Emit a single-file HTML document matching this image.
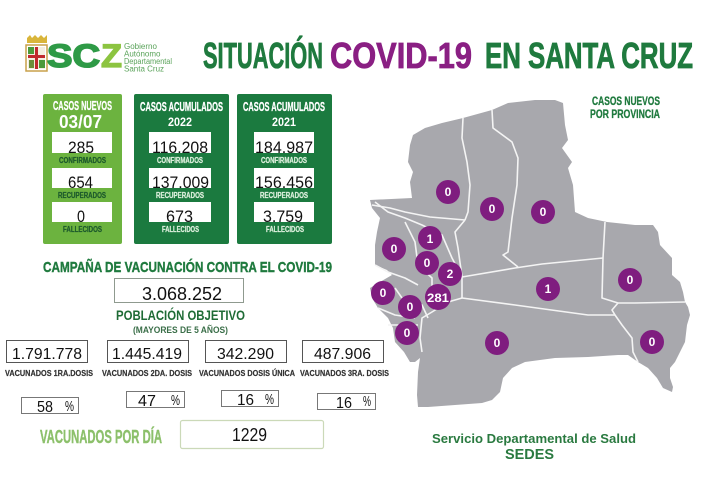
<!DOCTYPE html>
<html><head><meta charset="utf-8">
<style>
html,body{margin:0;padding:0;background:#fff;}
svg{display:block;}
text{font-family:"Liberation Sans",Arial,sans-serif;}
</style></head>
<body>
<svg width="714" height="502" viewBox="0 0 714 502" xmlns="http://www.w3.org/2000/svg">
<rect width="714" height="502" fill="#fff"/>

<!-- Logo shield -->
<g>
  <path d="M27,38 l3,-3 l2,3 l3,-3 l3,3 l3,-3 l3,3 l3,-3 v8 h-20 z" fill="#d9b53a"/>
  <rect x="26" y="45" width="21" height="26" fill="#fff" stroke="#c9a14a" stroke-width="1.5"/>
  <rect x="28" y="47" width="17" height="22" fill="#f3efe0"/>
  <rect x="35" y="47" width="3" height="22" fill="#c0282d"/>
  <rect x="28" y="55" width="17" height="3" fill="#c0282d"/>
  <rect x="28" y="47" width="6" height="7" fill="#4c9a3b"/>
  <rect x="39" y="60" width="6" height="8" fill="#4c9a3b"/>
  <rect x="29" y="60" width="5" height="8" fill="#6b8e3a"/>
</g>
<text x="47" y="67" font-size="32" font-weight="bold" fill="#2e9a46" stroke="#2e9a46" stroke-width="1.6" textLength="53" lengthAdjust="spacingAndGlyphs">SC</text>
<text x="101" y="67" font-size="32" font-weight="bold" fill="#8cc440" stroke="#8cc440" stroke-width="1.2" textLength="21" lengthAdjust="spacingAndGlyphs">Z</text>
<g font-size="8" fill="#5aa35a">
  <text x="124" y="49">Gobierno</text>
  <text x="124" y="56.5">Autónomo</text>
  <text x="124" y="64" textLength="48" lengthAdjust="spacingAndGlyphs">Departamental</text>
  <text x="124" y="71.5">Santa Cruz</text>
</g>

<!-- Title -->
<g font-size="36" font-weight="bold" stroke-width="0.8">
  <text x="203" y="68" fill="#1f7a3e" stroke="#1f7a3e" textLength="120" lengthAdjust="spacingAndGlyphs">SITUACIÓN</text>
  <text x="330" y="68" fill="#8a1f83" stroke="#8a1f83" textLength="142" lengthAdjust="spacingAndGlyphs">COVID-19</text>
  <text x="485" y="68" fill="#1f7a3e" stroke="#1f7a3e" textLength="208" lengthAdjust="spacingAndGlyphs">EN SANTA CRUZ</text>
</g>

<!-- Stat boxes -->
<rect x="43" y="94" width="79" height="150" rx="2" fill="#6cb33f"/>
<rect x="134" y="94" width="95" height="150" rx="2" fill="#1b7a3f"/>
<rect x="237" y="94" width="95" height="150" rx="2" fill="#1b7a3f"/>

<g font-weight="bold" fill="#fff">
  <text x="53" y="110" font-size="13" stroke="#fff" stroke-width="0.3" textLength="59" lengthAdjust="spacingAndGlyphs">CASOS NUEVOS</text>
  <text x="59" y="128" font-size="18" textLength="43" lengthAdjust="spacingAndGlyphs">03/07</text>
  <text x="140" y="111" font-size="13" stroke="#fff" stroke-width="0.3" textLength="83" lengthAdjust="spacingAndGlyphs">CASOS ACUMULADOS</text>
  <text x="243" y="111" font-size="13" stroke="#fff" stroke-width="0.3" textLength="82" lengthAdjust="spacingAndGlyphs">CASOS ACUMULADOS</text>
  <text x="168" y="126" font-size="12" textLength="24" lengthAdjust="spacingAndGlyphs">2022</text>
  <text x="272" y="126" font-size="12" textLength="24" lengthAdjust="spacingAndGlyphs">2021</text>
</g>

<g fill="#fff">
  <rect x="52" y="132" width="60" height="21"/>
  <rect x="52" y="168" width="60" height="20"/>
  <rect x="52" y="202" width="60" height="20"/>
  <rect x="149" y="132" width="62" height="21"/>
  <rect x="149" y="168" width="62" height="20"/>
  <rect x="149" y="202" width="62" height="20"/>
  <rect x="254" y="132" width="60" height="21"/>
  <rect x="254" y="168" width="60" height="20"/>
  <rect x="254" y="202" width="60" height="20"/>
</g>

<g font-size="17" fill="#111">
  <text x="68" y="153" textLength="26" lengthAdjust="spacingAndGlyphs">285</text>
  <text x="68" y="188" textLength="25" lengthAdjust="spacingAndGlyphs">654</text>
  <text x="77" y="222" textLength="8" lengthAdjust="spacingAndGlyphs">0</text>
  <text x="152" y="153" textLength="56" lengthAdjust="spacingAndGlyphs">116.208</text>
  <text x="152" y="188" textLength="57" lengthAdjust="spacingAndGlyphs">137.009</text>
  <text x="166" y="222" textLength="27" lengthAdjust="spacingAndGlyphs">673</text>
  <text x="255" y="153" textLength="58" lengthAdjust="spacingAndGlyphs">184.987</text>
  <text x="255" y="188" textLength="58" lengthAdjust="spacingAndGlyphs">156.456</text>
  <text x="263" y="222" textLength="40" lengthAdjust="spacingAndGlyphs">3.759</text>
</g>

<g font-size="8" font-weight="bold">
  <g fill="#1d5a2c" stroke="#1d5a2c" stroke-width="0.25">
    <text x="59" y="163" textLength="47" lengthAdjust="spacingAndGlyphs">CONFIRMADOS</text>
    <text x="58" y="198" textLength="48" lengthAdjust="spacingAndGlyphs">RECUPERADOS</text>
    <text x="63" y="232" textLength="39" lengthAdjust="spacingAndGlyphs">FALLECIDOS</text>
  </g>
  <g fill="#dcefdc" stroke="#dcefdc" stroke-width="0.25">
    <text x="157" y="163" textLength="46" lengthAdjust="spacingAndGlyphs">CONFIRMADOS</text>
    <text x="156" y="198" textLength="48" lengthAdjust="spacingAndGlyphs">RECUPERADOS</text>
    <text x="162" y="232" textLength="37" lengthAdjust="spacingAndGlyphs">FALLECIDOS</text>
    <text x="261" y="163" textLength="46" lengthAdjust="spacingAndGlyphs">CONFIRMADOS</text>
    <text x="260" y="198" textLength="48" lengthAdjust="spacingAndGlyphs">RECUPERADOS</text>
    <text x="266" y="232" textLength="38" lengthAdjust="spacingAndGlyphs">FALLECIDOS</text>
  </g>
</g>

<!-- Vaccination -->
<text x="43" y="272" font-size="15" font-weight="bold" fill="#1f7a3e" stroke="#1f7a3e" stroke-width="0.4" textLength="289" lengthAdjust="spacingAndGlyphs">CAMPAÑA DE VACUNACIÓN CONTRA EL COVID-19</text>
<rect x="114.5" y="278.5" width="129" height="24" fill="#fff" stroke="#8f9a8f" stroke-width="1"/>
<text x="142" y="300" font-size="18" fill="#111" textLength="80" lengthAdjust="spacingAndGlyphs">3.068.252</text>
<text x="116" y="320" font-size="14" font-weight="bold" fill="#1e6b35" textLength="129" lengthAdjust="spacingAndGlyphs">POBLACIÓN OBJETIVO</text>
<text x="133" y="333" font-size="9" font-weight="bold" fill="#3a6e48" textLength="95" lengthAdjust="spacingAndGlyphs">(MAYORES DE 5 AÑOS)</text>

<g fill="#fff" stroke="#555" stroke-width="1">
  <rect x="6.5" y="340.5" width="81" height="22"/>
  <rect x="107.5" y="340.5" width="81" height="22"/>
  <rect x="205.5" y="340.5" width="81" height="22"/>
  <rect x="302.5" y="340.5" width="81" height="22"/>
</g>
<g font-size="16" fill="#111">
  <text x="12" y="359" textLength="70" lengthAdjust="spacingAndGlyphs">1.791.778</text>
  <text x="112" y="359" textLength="70" lengthAdjust="spacingAndGlyphs">1.445.419</text>
  <text x="217" y="359" textLength="57" lengthAdjust="spacingAndGlyphs">342.290</text>
  <text x="314" y="359" textLength="57" lengthAdjust="spacingAndGlyphs">487.906</text>
</g>
<g font-size="8" font-weight="bold" fill="#333" stroke="#333" stroke-width="0.2">
  <text x="5" y="376" textLength="88" lengthAdjust="spacingAndGlyphs">VACUNADOS 1RA.DOSIS</text>
  <text x="102" y="376" textLength="90" lengthAdjust="spacingAndGlyphs">VACUNADOS 2DA. DOSIS</text>
  <text x="199" y="376" textLength="96" lengthAdjust="spacingAndGlyphs">VACUNADOS DOSIS ÚNICA</text>
  <text x="300" y="376" textLength="89" lengthAdjust="spacingAndGlyphs">VACUNADOS 3RA. DOSIS</text>
</g>

<g fill="#fff" stroke="#777" stroke-width="1">
  <rect x="21.5" y="397.5" width="57" height="16"/>
  <rect x="126.5" y="391.5" width="58" height="16"/>
  <rect x="221.5" y="390.5" width="57" height="16"/>
  <rect x="317.5" y="393.5" width="58" height="16"/>
</g>
<g font-size="16" fill="#111">
  <text x="37" y="412" textLength="16" lengthAdjust="spacingAndGlyphs">58</text>
  <text x="65" y="411" font-size="15" textLength="9" lengthAdjust="spacingAndGlyphs">%</text>
  <text x="138" y="406" textLength="18" lengthAdjust="spacingAndGlyphs">47</text>
  <text x="171" y="405" font-size="15" textLength="9" lengthAdjust="spacingAndGlyphs">%</text>
  <text x="237" y="405" textLength="17" lengthAdjust="spacingAndGlyphs">16</text>
  <text x="265" y="404" font-size="15" textLength="9" lengthAdjust="spacingAndGlyphs">%</text>
  <text x="336" y="408" textLength="16" lengthAdjust="spacingAndGlyphs">16</text>
  <text x="363" y="406" font-size="15" textLength="8" lengthAdjust="spacingAndGlyphs">%</text>
</g>

<text x="40" y="443" font-size="18" font-weight="bold" fill="#8cc06b" stroke="#8cc06b" stroke-width="0.4" textLength="122" lengthAdjust="spacingAndGlyphs">VACUNADOS POR DÍA</text>
<rect x="180.5" y="420.5" width="143" height="28" rx="2" fill="#fff" stroke="#cbd9b8" stroke-width="1.2"/>
<text x="232" y="441" font-size="18" fill="#111" textLength="35" lengthAdjust="spacingAndGlyphs">1229</text>

<!-- Map -->
<polygon fill="#a8a8ad" points="410,145 413,135 425,128 442,123 463,118 492,110 508,103 535,100 555,100 563,103 565,125 568,140 562,148 572,162 568,168 573,185 575,212 588,218 607,222 635,225 653,225 658,232 660,245 672,258 672,275 680,282 683,292 685,302 688,307 690,315 687,325 685,342 680,352 675,362 670,368 670,378 673,387 672,392 663,388 657,378 648,368 638,362 628,355 618,355 588,357 555,358 525,362 512,368 503,378 500,392 492,400 482,403 455,405 428,407 418,407 417,395 418,372 420,358 415,362 410,362 404,352 395,342 393,328 388,318 378,308 372,298 370,288 380,282 392,275 387,270 375,265 375,245 377,232 380,218 372,208 370,200 412,198 410,182 413,172 408,162"/>
<g fill="none" stroke="#f4f4f4" stroke-width="1.6" stroke-linejoin="round">
  <polyline points="463,118 462,138 467,162 470,185 468,212 465,220"/>
  <polyline points="372,205 390,208 405,212 430,217 465,220"/>
  <polyline points="492,110 493,128 512,142 518,158 517,185 512,218 508,252 503,255 518,267"/>
  <polyline points="462,277 515,268 542,264 603,258"/>
  <polyline points="605,222 603,258 602,298 618,303"/>
  <polyline points="618,303 635,303 685,302"/>
  <polyline points="618,303 612,310 615,315 622,325 632,338 633,352 638,362"/>
  <polyline points="462,298 515,305 588,315 615,315"/>
  <polyline points="465,220 455,232 458,248 462,277 462,298"/>
  <polyline points="462,298 448,302 432,312 422,318 420,338 422,352"/>
  <polyline points="375,202 388,212 405,218 422,225 442,235 452,258 462,277"/>
  <polyline points="405,222 415,242 418,265 432,278 432,298"/>
  <polyline points="375,265 388,272 405,278 418,285"/>
  <polyline points="395,288 402,298 422,305 428,318"/>
  <polyline points="378,308 395,315 415,318"/>
  <polyline points="388,325 418,325"/>
</g>

<g fill="#7f1d7f">
  <circle cx="448" cy="192" r="12"/>
  <circle cx="492" cy="209" r="12"/>
  <circle cx="543" cy="212" r="12"/>
  <circle cx="430" cy="238" r="12"/>
  <circle cx="394" cy="249" r="12"/>
  <circle cx="427" cy="263" r="12"/>
  <circle cx="450" cy="274" r="12"/>
  <circle cx="383" cy="293" r="12"/>
  <circle cx="438" cy="297" r="13"/>
  <circle cx="410" cy="307" r="12"/>
  <circle cx="407" cy="333" r="12"/>
  <circle cx="548" cy="289" r="12"/>
  <circle cx="630" cy="280" r="12"/>
  <circle cx="497" cy="343" r="12"/>
  <circle cx="652" cy="342" r="12"/>
</g>
<g font-size="12" font-weight="bold" fill="#fff" text-anchor="middle">
  <text x="448" y="196">0</text>
  <text x="492" y="213">0</text>
  <text x="543" y="216">0</text>
  <text x="430" y="243">1</text>
  <text x="394" y="253">0</text>
  <text x="427" y="267">0</text>
  <text x="450" y="278">2</text>
  <text x="383" y="297">0</text>
  <text x="438" y="302" textLength="22" lengthAdjust="spacingAndGlyphs">281</text>
  <text x="410" y="311">0</text>
  <text x="407" y="337">0</text>
  <text x="548" y="293">1</text>
  <text x="630" y="284">0</text>
  <text x="497" y="347">0</text>
  <text x="652" y="346">0</text>
</g>

<g font-size="12" font-weight="bold" fill="#1f7a3e" stroke="#1f7a3e" stroke-width="0.3">
  <text x="592" y="105" textLength="68" lengthAdjust="spacingAndGlyphs">CASOS NUEVOS</text>
  <text x="590" y="118" textLength="70" lengthAdjust="spacingAndGlyphs">POR PROVINCIA</text>
</g>

<text x="432" y="443" font-size="13" font-weight="bold" fill="#2a7a40" textLength="204" lengthAdjust="spacingAndGlyphs">Servicio Departamental de Salud</text>
<text x="505" y="459" font-size="15" font-weight="bold" fill="#2a7a40" textLength="49" lengthAdjust="spacingAndGlyphs">SEDES</text>
</svg>
</body></html>
